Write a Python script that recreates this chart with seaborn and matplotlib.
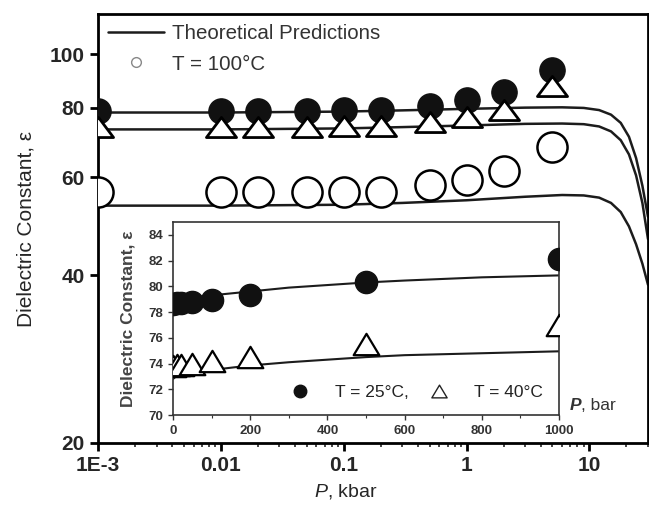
import matplotlib
matplotlib.use("Agg")
import matplotlib.pyplot as plt
import matplotlib.ticker as mticker
from matplotlib.lines import Line2D
from matplotlib.markers import MarkerStyle
from matplotlib.path import Path
import seaborn as sns

# main panel, measured points (P in kbar)
p_kbar = [0.001, 0.01, 0.02, 0.05, 0.1, 0.2, 0.5, 1, 2, 5]
eps_25 = [79.0, 79.1, 79.1, 79.1, 79.2, 79.3, 80.6, 82.7, 85.4, 93.7]
eps_40 = [74.0, 74.0, 74.0, 74.0, 74.1, 74.2, 75.6, 76.9, 79.2, 87.7]
eps_100 = [56.4, 56.4, 56.4, 56.4, 56.4, 56.6, 58.1, 59.3, 61.7, 68.1]

# main panel, theoretical predictions
p_theory = [0.001, 0.01, 0.1, 0.3, 1, 3, 6, 9, 12, 15, 18, 21, 24, 27, 30]
theory_25 = [78.5, 78.5, 78.8, 79.2, 79.7, 80.1, 80.2, 80.0, 79.3, 77.8, 75.2, 71.0, 65.0, 58.0, 51.0]
theory_40 = [73.2, 73.2, 73.5, 73.9, 74.4, 74.9, 75.0, 74.8, 74.1, 72.6, 70.0, 66.0, 60.5, 54.0, 46.5]
theory_100 = [53.4, 53.4, 53.6, 54.0, 54.6, 55.4, 55.8, 55.7, 55.2, 54.0, 52.0, 49.0, 45.5, 42.0, 38.5]

# inset (P in bar)
p_bar = [1, 10, 20, 50, 100, 200, 500, 1000]
inset_25 = [78.6, 78.7, 78.7, 78.8, 78.9, 79.3, 80.3, 82.1]
inset_40 = [73.8, 73.9, 73.9, 74.0, 74.2, 74.5, 75.5, 77.0]
p_bar_theory = [0, 20, 100, 200, 300, 400, 500, 600, 800, 1000]
inset_theory_25 = [78.6, 79.0, 79.3, 79.6, 79.9, 80.1, 80.3, 80.45, 80.7, 80.85]
inset_theory_40 = [72.8, 73.3, 73.5, 73.85, 74.1, 74.3, 74.5, 74.65, 74.8, 74.95]

x_ticks = [0.001, 0.01, 0.1, 1, 10]
x_ticklabels = ["1E-3", "0.01", "0.1", "1", "10"]
y_ticks = [20, 40, 60, 80, 100]
inset_xticks = [0, 200, 400, 600, 800, 1000]
inset_yticks = [70, 72, 74, 76, 78, 80, 82, 84]

sns.set_style("ticks")
plt.rcParams['font.family'] = ['Liberation Sans', 'DejaVu Sans']
plt.rcParams['mathtext.fontset'] = 'custom'
plt.rcParams['mathtext.it'] = 'Liberation Sans:italic'
plt.rcParams['mathtext.rm'] = 'Liberation Sans'

line_col = "#1c1c1c"
# flattened open triangles
tri = MarkerStyle(Path([(-1.5, -1), (1.5, -1), (0, 1), (-1.5, -1)], closed=True))
tri_in = MarkerStyle(Path([(-1.2, -1), (1.2, -1), (0, 1), (-1.2, -1)], closed=True))

fig = plt.figure(figsize=(6.49, 5.08), dpi=100)
ax = fig.add_axes([98/649, 1-443/508, 550/649, 429/508])

# theory lines
for yy in [theory_25, theory_40, theory_100]:
    sns.lineplot(x=p_theory, y=yy, ax=ax, color=line_col, lw=1.8, zorder=2)

# points
sns.scatterplot(x=p_kbar, y=eps_100, ax=ax, marker='o', s=470, color='white',
                edgecolor='black', linewidth=1.8, zorder=3)
sns.scatterplot(x=p_kbar, y=eps_25, ax=ax, marker='o', s=330, color='#111111',
                edgecolor='#111111', linewidth=1, zorder=3)
sns.scatterplot(x=p_kbar, y=eps_40, ax=ax, marker=tri, s=470, color='white',
                edgecolor='black', linewidth=2, zorder=4)

ax.set_xscale('log')
ax.set_yscale('log')
ax.set_xlim(0.001, 30)
ax.set_ylim(20, 118)
ax.set_xticks(x_ticks, x_ticklabels)
ax.xaxis.set_minor_locator(mticker.LogLocator(base=10, subs=range(2, 10), numticks=20))
ax.xaxis.set_minor_formatter(mticker.NullFormatter())
ax.yaxis.set_major_locator(mticker.FixedLocator(y_ticks))
ax.yaxis.set_major_formatter(mticker.FuncFormatter(lambda v, p: f"{v:g}"))
ax.yaxis.set_minor_locator(mticker.NullLocator())
ax.tick_params(axis='both', which='major', labelsize=15, length=6, width=2, direction='out', color='black')
ax.tick_params(axis='x', which='minor', length=3, width=1.2, direction='out')
for lab in ax.get_xticklabels() + ax.get_yticklabels():
    lab.set_fontweight('bold')
for s in ax.spines.values():
    s.set_linewidth(2)
    s.set_color('black')

ax.set_xlabel(r"$\mathit{P}$, kbar", fontsize=14, labelpad=5, x=0.45)
ax.set_ylabel("Dielectric Constant, ε", fontsize=15, labelpad=10)

handles = [Line2D([], [], color=line_col, lw=1.8),
           Line2D([], [], marker='o', ls='', mfc='white', mec='#888888', ms=7, mew=1)]
leg = ax.legend(handles, ["Theoretical Predictions", "T = 100°C"], loc='upper left',
                bbox_to_anchor=(0.0, 1.0), frameon=False, fontsize=14.8, handlelength=2.7,
                handletextpad=0.4, labelspacing=0.55, borderaxespad=0.2, borderpad=0.3)
for t in leg.get_texts():
    t.set_color('#333333')

# inset
ax_in = fig.add_axes([173/649, 1-415/508, 386/649, 193/508])
ax_in.set_facecolor('white')
sns.lineplot(x=p_bar_theory, y=inset_theory_25, ax=ax_in, color=line_col, lw=1.5, zorder=2)
sns.lineplot(x=p_bar_theory, y=inset_theory_40, ax=ax_in, color=line_col, lw=1.5, zorder=2)
sns.scatterplot(x=p_bar, y=inset_25, ax=ax_in, marker='o', s=256, color='#111111',
                edgecolor='#111111', linewidth=1, zorder=3)
sns.scatterplot(x=p_bar, y=inset_40, ax=ax_in, marker=tri_in, s=340, color='white',
                edgecolor='black', linewidth=1.6, zorder=4)
ax_in.set_xlim(0, 1000)
ax_in.set_ylim(70, 85)
ax_in.set_xticks(inset_xticks)
ax_in.set_yticks(inset_yticks)
ax_in.xaxis.set_minor_locator(mticker.MultipleLocator(100))
ax_in.tick_params(axis='both', which='major', labelsize=9.5, length=3.5, width=1,
                  direction='out', colors='#333333')
ax_in.tick_params(axis='x', which='minor', length=2, width=0.8, direction='out', color='#333333')
for lab in ax_in.get_xticklabels() + ax_in.get_yticklabels():
    lab.set_fontweight('bold')
for s in ax_in.spines.values():
    s.set_linewidth(1.2)
    s.set_color('#333333')
ax_in.set_ylabel("Dielectric Constant, ε", fontsize=12.5, fontweight='bold', color='#444444', labelpad=9)

in_handles = [Line2D([], [], marker='o', ls='', mfc='#111111', mec='#111111', ms=9),
              Line2D([], [], marker=tri_in, ls='', mfc='white', mec='#222222', ms=11, mew=1)]
leg2 = ax_in.legend(in_handles, ["T = 25°C,", "T = 40°C"], ncol=2, loc='center right',
                    bbox_to_anchor=(0.975, 0.115), frameon=False, fontsize=12.5,
                    handletextpad=1.0, columnspacing=0.75, borderaxespad=0)
for t in leg2.get_texts():
    t.set_color('#222222')

ax_in.text(1.028, 0.05, "P", transform=ax_in.transAxes, fontsize=12.5, fontweight='bold',
           style='italic', color='#333333', ha='left', va='center')
ax_in.text(1.058, 0.05, ", bar", transform=ax_in.transAxes, fontsize=12.5,
           color='#333333', ha='left', va='center')

fig.savefig("out.png", dpi=100)
